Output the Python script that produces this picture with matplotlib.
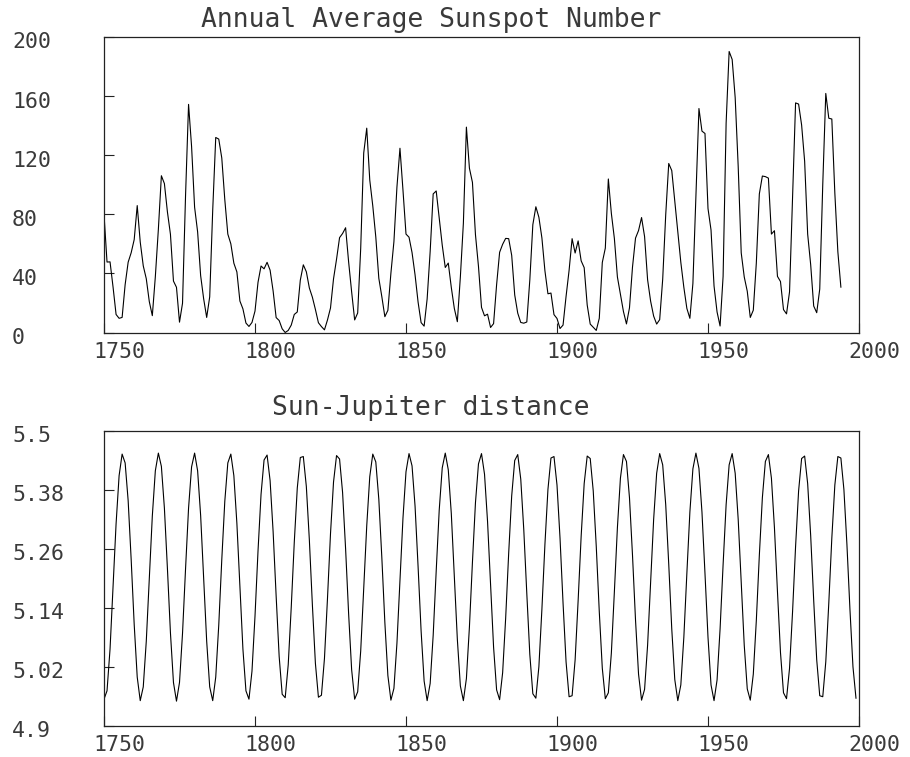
import matplotlib
matplotlib.use("Agg")
import matplotlib.pyplot as plt
from matplotlib.transforms import ScaledTranslation

# ---------------- data ----------------
years_sun = list(range(1750, 1995))
sunspots = [
    80.0, 47.7, 47.8, 30.7, 12.2, 9.6, 10.2, 32.4, 47.6, 54.0,      # 1750-1759
    62.9, 85.9, 61.2, 45.1, 36.4, 20.9, 11.4, 37.8, 69.8, 106.1,    # 1760-1769
    100.8, 81.6, 66.5, 34.8, 30.6, 7.0, 19.8, 92.5, 154.4, 125.9,   # 1770-1779
    84.8, 68.1, 38.5, 22.8, 10.2, 24.1, 82.9, 132.0, 130.9, 118.1,  # 1780-1789
    89.9, 66.6, 60.0, 46.9, 41.0, 21.3, 16.0, 6.4, 4.1, 6.8,        # 1790-1799
    14.5, 34.0, 45.0, 43.1, 47.5, 42.2, 28.1, 10.1, 8.1, 2.5,       # 1800-1809
    0.0, 1.4, 5.0, 12.2, 13.9, 35.4, 45.8, 41.1, 30.1, 23.9,        # 1810-1819
    15.6, 6.6, 4.0, 1.8, 8.5, 16.6, 36.3, 49.6, 64.2, 67.0,         # 1820-1829
    70.9, 47.8, 27.5, 8.5, 13.2, 56.9, 121.5, 138.3, 103.2, 85.7,   # 1830-1839
    64.6, 36.7, 24.2, 10.7, 15.0, 40.1, 61.5, 98.5, 124.7, 96.3,    # 1840-1849
    66.6, 64.5, 54.1, 39.0, 20.6, 6.7, 4.3, 22.7, 54.8, 93.8,       # 1850-1859
    95.8, 77.2, 59.1, 44.0, 47.0, 30.5, 16.3, 7.3, 37.6, 74.0,      # 1860-1869
    139.0, 111.2, 101.6, 66.2, 44.7, 17.0, 11.3, 12.4, 3.4, 6.0,    # 1870-1879
    32.3, 54.3, 59.7, 63.7, 63.5, 52.2, 25.4, 13.1, 6.8, 6.3,       # 1880-1889
    7.1, 35.6, 73.0, 85.1, 78.0, 64.0, 41.8, 26.2, 26.7, 12.1,      # 1890-1899
    9.5, 2.7, 5.0, 24.4, 42.0, 63.5, 53.8, 62.0, 48.5, 43.9,        # 1900-1909
    18.6, 5.7, 3.6, 1.4, 9.6, 47.4, 57.1, 103.9, 80.6, 63.6,        # 1910-1919
    37.6, 26.1, 14.2, 5.8, 16.7, 44.3, 63.9, 69.0, 77.8, 64.9,      # 1920-1929
    35.7, 21.2, 11.1, 5.7, 8.7, 36.1, 79.7, 114.4, 109.6, 88.8,     # 1930-1939
    67.8, 47.5, 30.6, 16.3, 9.6, 33.2, 92.6, 151.6, 136.3, 134.7,   # 1940-1949
    83.9, 69.4, 31.5, 13.9, 4.4, 38.0, 141.7, 190.2, 184.8, 159.0,  # 1950-1959
    112.3, 53.9, 37.6, 27.9, 10.2, 15.1, 47.0, 93.8, 105.9, 105.5,  # 1960-1969
    104.5, 66.6, 68.9, 38.0, 34.5, 15.5, 12.6, 27.5, 92.5, 155.4,   # 1970-1979
    154.6, 140.4, 115.9, 66.6, 45.9, 17.9, 13.4, 29.4, 100.2, 161.8,# 1980-1989
    145.0, 144.5, 94.3, 54.6, 30.7,                                 # 1990-1994
]

years_jup = list(range(1750, 2000))
jupiter_dist = [
    4.954, 4.971, 5.056, 5.182, 5.311, 5.409, 5.453, 5.435, 5.358, 5.238,  # 1750
    5.106, 4.999, 4.951, 4.979, 5.072, 5.201, 5.327, 5.419, 5.455, 5.428,  # 1760
    5.343, 5.220, 5.089, 4.988, 4.950, 4.988, 5.088, 5.219, 5.343, 5.427,  # 1770
    5.455, 5.419, 5.328, 5.201, 5.072, 4.979, 4.951, 4.999, 5.105, 5.238,  # 1780
    5.357, 5.435, 5.453, 5.409, 5.312, 5.183, 5.056, 4.971, 4.954, 5.011,  # 1790
    5.123, 5.256, 5.371, 5.441, 5.451, 5.399, 5.295, 5.164, 5.041, 4.964,  # 1800
    4.957, 5.024, 5.141, 5.273, 5.384, 5.446, 5.448, 5.387, 5.278, 5.146,  # 1810
    5.027, 4.958, 4.962, 5.037, 5.159, 5.291, 5.396, 5.450, 5.443, 5.375,  # 1820
    5.260, 5.128, 5.014, 4.954, 4.969, 5.052, 5.178, 5.307, 5.407, 5.453,  # 1830
    5.437, 5.361, 5.242, 5.110, 5.002, 4.952, 4.976, 5.068, 5.196, 5.323,  # 1840
    5.417, 5.454, 5.429, 5.347, 5.224, 5.093, 4.991, 4.951, 4.986, 5.084,  # 1850
    5.215, 5.339, 5.425, 5.455, 5.421, 5.332, 5.206, 5.076, 4.981, 4.951,  # 1860
    4.996, 5.101, 5.233, 5.354, 5.433, 5.454, 5.412, 5.316, 5.187, 5.060,  # 1870
    4.973, 4.953, 5.008, 5.119, 5.251, 5.368, 5.440, 5.452, 5.402, 5.299,  # 1880
    5.169, 5.045, 4.965, 4.956, 5.020, 5.137, 5.269, 5.381, 5.445, 5.448,  # 1890
    5.390, 5.282, 5.150, 5.030, 4.959, 4.961, 5.034, 5.155, 5.286, 5.393,  # 1900
    5.449, 5.444, 5.378, 5.265, 5.132, 5.017, 4.955, 4.967, 5.048, 5.173,  # 1910
    5.303, 5.404, 5.452, 5.438, 5.364, 5.247, 5.115, 5.005, 4.952, 4.974,  # 1920
    5.064, 5.192, 5.320, 5.414, 5.454, 5.431, 5.350, 5.229, 5.097, 4.994,  # 1930
    4.951, 4.983, 5.080, 5.210, 5.335, 5.423, 5.455, 5.424, 5.335, 5.210,  # 1940
    5.080, 4.983, 4.951, 4.993, 5.097, 5.228, 5.350, 5.431, 5.454, 5.414,  # 1950
    5.320, 5.192, 5.064, 4.975, 4.952, 5.005, 5.114, 5.247, 5.364, 5.438,  # 1960
    5.452, 5.404, 5.303, 5.173, 5.049, 4.967, 4.955, 5.017, 5.132, 5.265,  # 1970
    5.378, 5.444, 5.449, 5.393, 5.287, 5.155, 5.034, 4.961, 4.959, 5.030,  # 1980
    5.150, 5.282, 5.390, 5.448, 5.445, 5.381, 5.269, 5.137, 5.020, 4.956,  # 1990
]

x_ticks = [1750, 1800, 1850, 1900, 1950, 2000]
sun_yticks = [0, 40, 80, 120, 160, 200]
jup_yticks = [4.9, 5.02, 5.14, 5.26, 5.38, 5.5]
jup_ylabels = ["4.9", "5.02", "5.14", "5.26", "5.38", "5.5"]
title_sun = "Annual Average Sunspot Number"
title_jup = "Sun-Jupiter distance"

# ---------------- figure ----------------
W, H = 910, 757
DPI = 100
fig = plt.figure(figsize=(W / DPI, H / DPI), dpi=DPI, facecolor="white")
FONT = "DejaVu Sans Mono"
LBL_SIZE = 15.5
TXT_COLOR = "#3a3a3a"


def px_axes(l, t, r, b):
    return fig.add_axes([l / W, 1 - b / H, (r - l) / W, (b - t) / H])


def style(ax, yticks, ylabels):
    ax.set_xlim(1750, 2000)
    ax.set_xticks(x_ticks)
    ax.set_xticklabels([str(v) for v in x_ticks])
    ax.set_yticks(yticks)
    ax.set_yticklabels(ylabels)
    for s in ax.spines.values():
        s.set_linewidth(0.9)
        s.set_color("#222222")
    ax.tick_params(axis="both", direction="in", length=7.5, width=0.8,
                   color="#222222", labelsize=LBL_SIZE, labelcolor=TXT_COLOR)
    ax.tick_params(axis="y", pad=66.2)
    ax.tick_params(axis="x", pad=6.5)
    yoff = ScaledTranslation(0, -3.5 / DPI, fig.dpi_scale_trans)
    xoff = ScaledTranslation(-11 / DPI, 0, fig.dpi_scale_trans)
    for t in ax.yaxis.get_major_ticks():
        t.label1.set_horizontalalignment("left")
        t.label1.set_fontfamily(FONT)
        t.label1.set_transform(t.label1.get_transform() + yoff)
    for t in ax.xaxis.get_major_ticks():
        t.label1.set_horizontalalignment("left")
        t.label1.set_fontfamily(FONT)
        t.label1.set_transform(t.label1.get_transform() + xoff)


ax1 = px_axes(104, 37, 859, 332.5)
ax1.plot(years_sun, sunspots, color="black", lw=0.8)
ax1.set_ylim(0, 200)
style(ax1, sun_yticks, [str(v) for v in sun_yticks])

ax2 = px_axes(104, 431, 859, 725.7)
ax2.plot(years_jup, jupiter_dist, color="black", lw=0.8)
ax2.set_ylim(4.9, 5.5)
style(ax2, jup_yticks, jup_ylabels)

fig.text(431 / W, 1 - 27 / H, title_sun, ha="center", va="baseline",
         fontsize=19, fontfamily=FONT, color=TXT_COLOR)
fig.text(431 / W, 1 - 415 / H, title_jup, ha="center", va="baseline",
         fontsize=19, fontfamily=FONT, color=TXT_COLOR)

fig.savefig("out.png", dpi=DPI, facecolor="white")
